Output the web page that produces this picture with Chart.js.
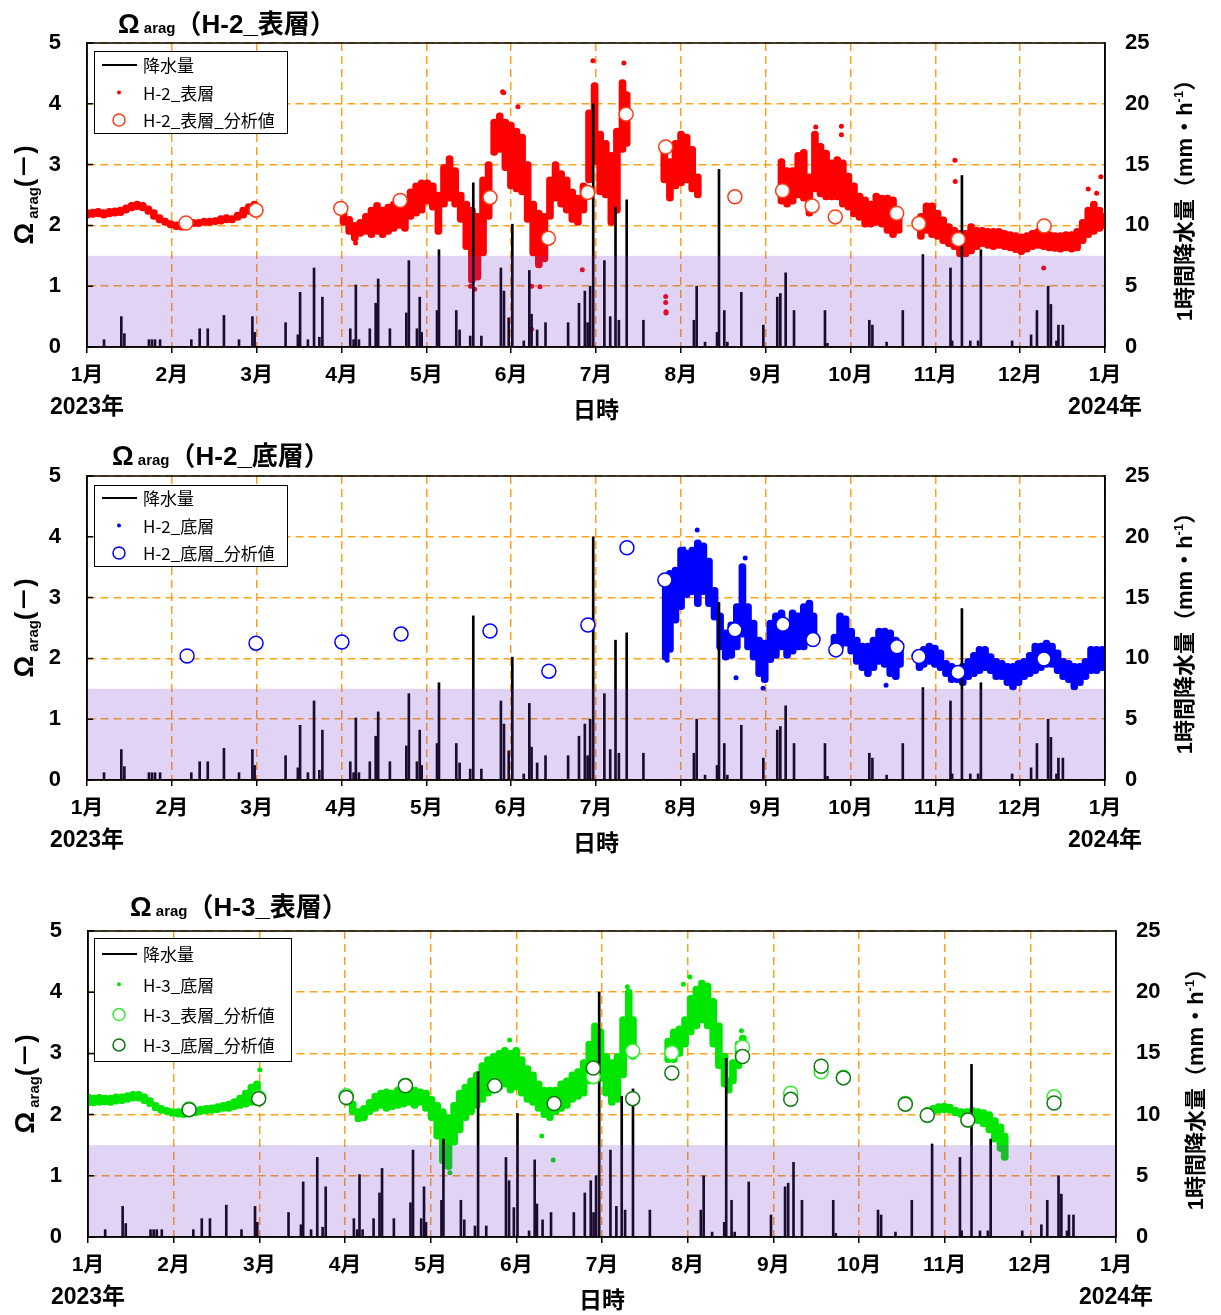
<!DOCTYPE html>
<html>
<head>
<meta charset="utf-8">
<title>Ωarag</title>
<script src="https://cdn.jsdelivr.net/npm/chart.js@4.4.1/dist/chart.umd.min.js"></script>
<style>
  body { margin: 0; background: #fff; }
  canvas { position: absolute; left: 0; display: block; }
</style>
</head>
<body>
<canvas id="p1" width="1221" height="433" style="top:0"></canvas>
<canvas id="p2" width="1221" height="433" style="top:433px"></canvas>
<canvas id="p3" width="1221" height="449" style="top:866px"></canvas>
<script>
// x = day of year 2023 (0 = 1 Jan), axis ticks every 1/12 year
const monthLabels = ['1月', '2月', '3月', '4月', '5月', '6月', '7月', '8月', '9月', '10月', '11月', '12月', '1月'];
const yearLabels = ['2023年', '2024年'];
const bandTop = 1.5;

// hourly precipitation peaks [day, mm/h]
const rain = [
  [6.1,0.6],[12.3,2.5],[13.4,1.1],[22.2,0.6],[23.3,0.6],[24.4,0.6],[26.2,0.6],[37.4,0.6],[40.4,1.5],[43.3,1.5],
  [49.1,2.6],[54.5,0.6],[59.3,2.5],[60.1,1.2],[71.2,2.0],[75.6,1.0],[76.4,4.5],[79.2,0.6],[81.4,6.5],[83.3,0.8],
  [84.4,4.1],[94.4,1.5],[95.6,0.6],[96.4,5.1],[97.5,0.6],[101.4,1.5],[103.5,3.6],[104.4,5.6],[108.6,1.5],[114.5,2.8],
  [115.4,7.1],[118.3,1.5],[119.3,4.1],[120.0,1.2],[125.5,3.0],[126.2,8.0],[132.4,3.0],[133.6,1.4],[137.4,0.9],[138.5,13.5],
  [141.4,0.9],[148.4,6.5],[149.5,4.6],[151.2,2.4],[152.5,10.1],[156.6,0.5],[158.6,6.3],[159.4,2.7],[161.4,1.4],[164.4,2.0],
  [172.5,2.0],[176.4,3.6],[178.5,4.6],[179.5,2.0],[180.4,5.0],[181.5,20.0],[185.5,7.1],[187.6,2.5],[189.5,11.5],[190.7,2.2],
  [193.5,12.1],[199.5,2.2],[217.6,2.2],[218.6,5.0],[221.6,0.4],[225.9,1.2],[226.6,14.6],[228.5,3.0],[229.6,0.4],[234.6,4.5],
  [242.5,1.8],[247.5,4.1],[248.6,4.4],[250.5,6.1],[253.5,3.0],[264.6,3.0],[265.5,0.3],[280.5,2.2],[281.6,1.8],[286.7,0.4],
  [292.5,3.0],[299.7,7.6],[309.6,6.5],[310.2,0.5],[313.7,14.1],[316.7,0.5],[319.5,0.5],[320.5,8.0],[331.7,0.5],[338.5,1.0],
  [340.6,3.0],[344.6,5.0],[345.6,3.5],[347.6,0.5],[348.3,1.8],[349.9,1.8]
];

// H-2 surface: continuous record, spread per ~2 days [day, low, high]
const h2sBand = [
  [0,2.12,2.26],[2,2.13,2.27],[4,2.14,2.28],[6,2.12,2.26],[8,2.14,2.28],[10,2.15,2.29],[12,2.16,2.30],[14,2.20,2.34],
  [16,2.24,2.38],[18,2.26,2.40],[20,2.24,2.38],[22,2.18,2.32],[24,2.10,2.26],[26,2.04,2.18],[28,2.00,2.12],[30,1.96,2.08],
  [32,1.93,2.06],[34,1.92,2.08],[36,1.94,2.10],[38,1.98,2.10],[40,1.98,2.10],[42,2.00,2.12],[44,2.00,2.12],[46,2.01,2.13],
  [48,2.02,2.16],[50,2.04,2.18],[52,2.04,2.16],[54,2.08,2.22],[56,2.12,2.30],[58,2.18,2.36],[60,2.22,2.40],
  [92,2.00,2.24],[94,1.85,2.15],[96,1.74,2.05],[98,1.82,2.10],[100,1.85,2.20],[102,1.80,2.30],[104,1.85,2.38],[106,1.80,2.30],
  [108,1.85,2.35],[110,1.90,2.40],[112,1.95,2.45],[114,1.90,2.40],[116,2.10,2.60],[118,2.15,2.70],[120,2.20,2.75],
  [122,2.35,2.75],[124,2.25,2.70],[126,1.85,2.55],[128,2.30,3.00],[130,2.40,3.15],[132,2.30,2.95],[134,2.05,2.55],[136,1.60,2.40],
  [138,1.05,2.30],[140,1.10,2.20],[142,1.50,2.80],[144,2.10,3.05],[146,3.15,3.75],[148,3.20,3.85],[150,2.90,3.75],[152,2.60,3.70],
  [154,2.55,3.60],[156,2.50,3.50],[158,2.05,3.05],[160,1.50,2.40],[162,1.30,2.25],[164,1.40,2.20],[166,2.10,2.80],[168,2.40,3.05],
  [170,2.30,2.90],[172,2.20,2.80],[174,2.05,2.60],[176,2.00,2.50],[178,2.20,2.70],[180,2.70,3.90],[182,3.00,4.35],[184,2.50,3.55],
  [186,2.45,3.40],[188,2.00,3.20],[190,2.20,3.60],[192,3.20,4.40],[193.5,3.30,4.20],
  [207,2.70,3.35],[209,2.40,3.10],[211,2.60,3.40],[213,2.65,3.55],[215,2.70,3.50],[217,2.55,3.30],[219,2.45,2.85],
  [249,2.35,3.10],[251,2.30,2.95],[253,2.35,2.95],[255,2.45,3.20],[257,2.40,3.25],[259,2.15,2.85],[261,2.55,3.55],[263,2.47,3.35],
  [265,2.42,3.24],[267,2.42,3.08],[269,2.42,3.13],[271,2.30,3.08],[273,2.25,2.86],[275,2.14,2.70],[277,2.08,2.53],[279,1.97,2.47],
  [281,1.97,2.40],[283,2.00,2.53],[285,1.97,2.50],[287,1.87,2.50],[289,1.80,2.47],[291,1.87,2.20],
  [299,1.77,2.20],[301,1.87,2.37],[303,1.80,2.37],[305,1.77,2.25],[307,1.70,2.14],[309,1.65,2.03],[311,1.60,1.97],[313,1.48,1.92],
  [315,1.48,1.92],[317,1.53,2.03],[319,1.60,1.97],[321,1.65,1.97],[323,1.62,1.95],[325,1.60,1.95],[327,1.62,1.95],[329,1.60,1.92],
  [331,1.58,1.90],[333,1.55,1.88],[335,1.52,1.86],[337,1.56,1.88],[339,1.60,1.92],[341,1.62,1.95],[343,1.60,1.92],[345,1.58,1.90],
  [347,1.57,1.88],[349,1.56,1.88],[351,1.58,1.90],[353,1.56,1.90],[355,1.58,1.95],[357,1.70,2.10],[359,1.80,2.30],[361,1.85,2.40],
  [363,1.90,2.30],[364.5,1.95,2.20]
];
const h2sOut = [
  [96.3,1.71],[137.5,1.00],[139,0.95],[149,4.20],[149.4,4.18],[154.5,3.95],[159.4,0.29],[159.4,1.00],[162.4,0.99],[177.6,1.27],
  [181.4,4.71],[192.5,4.67],[207.5,0.83],[207.5,0.73],[207.6,0.58],[207.6,0.56],[261.3,3.62],[270.5,3.63],[270.5,3.49],
  [311.2,3.07],[311.3,2.72],[343,1.30],[359,2.60],[362,2.53],[363.5,2.80]
];
const h2sCirc = [
  [35.5,2.04],[60.6,2.25],[91,2.28],[112.3,2.41],[144.5,2.46],[165.4,1.79],[179.5,2.54],[193.3,3.83],[207.5,3.29],
  [232.3,2.47],[249.4,2.57],[260,2.32],[268.3,2.14],[290.3,2.20],[298.3,2.03],[312.4,1.77],[343.2,1.99]
];

// H-2 bottom
const h2bBand = [
  [207.5,1.97,3.34],[209,2.10,3.45],[211,2.58,3.50],[213,2.80,3.83],[215,3.00,3.78],[217,3.05,3.83],[219,2.85,3.95],[221,3.05,3.90],
  [223,2.85,3.65],[225,2.63,3.17],[227,2.14,2.75],[229,1.97,2.47],[231,2.00,2.60],[233,2.14,2.90],[235,2.35,3.56],[237,2.14,2.90],
  [239,1.97,2.63],[241,1.70,2.35],[243,1.60,2.30],[245,1.93,2.63],[247,2.00,2.75],[249,2.14,2.80],[251,2.00,2.63],[253,2.07,2.80],
  [255,2.14,2.75],[257,2.14,2.90],[259,2.25,2.96],[260.5,2.30,2.75],
  [268,2.08,2.40],[270,2.14,2.75],[272,2.20,2.70],[274,2.07,2.50],[276,1.90,2.35],[278,1.80,2.25],[280,1.70,2.25],[282,1.80,2.35],
  [284,1.90,2.50],[286,1.85,2.50],[288,1.70,2.47],[290,1.65,2.35],[291.5,1.85,2.20],
  [298.5,1.80,2.14],[300,1.85,2.20],[302,1.90,2.25],[304,1.85,2.22],[306,1.80,2.14],[308,1.70,1.97],[310,1.60,1.92],[312,1.60,1.86],
  [314,1.55,1.92],[316,1.65,2.00],[318,1.70,2.10],[320,1.75,2.20],[322,1.80,2.20],[324,1.75,2.08],[326,1.65,2.00],[328,1.65,1.97],
  [330,1.55,1.92],[332,1.48,1.92],[334,1.55,1.97],[336,1.65,2.00],[338,1.70,2.10],[340,1.75,2.25],[342,1.80,2.25],[344,1.85,2.30],
  [346,1.85,2.25],[348,1.75,2.14],[350,1.65,2.00],[352,1.60,1.97],[354,1.48,1.92],[356,1.55,1.92],[358,1.65,2.00],[360,1.75,2.20],
  [362,1.75,2.20],[364,1.80,2.20]
];
const h2bOut = [
  [208,1.97],[214,3.80],[218.8,4.11],[236,3.65],[232.7,1.68],[242.4,1.51],[286.5,1.56]
];
const h2bCirc = [
  [35.9,2.04],[60.6,2.25],[91.4,2.27],[112.6,2.40],[144.5,2.45],[165.6,1.79],[179.6,2.55],[193.6,3.82],[207.2,3.29],
  [232.3,2.47],[249.5,2.56],[260.3,2.31],[268.5,2.14],[290.4,2.19],[298.3,2.03],[312.3,1.77],[343.1,1.99]
];

// H-3 bottom
const h3bBand = [
  [0,2.14,2.34],[2,2.14,2.32],[4,2.15,2.33],[6,2.16,2.32],[8,2.15,2.32],[10,2.17,2.34],[12,2.18,2.34],[14,2.20,2.36],
  [16,2.22,2.38],[18,2.22,2.38],[20,2.18,2.34],[22,2.13,2.28],[24,2.06,2.20],[26,2.02,2.15],[28,2.00,2.12],[30,1.97,2.10],
  [32,1.96,2.10],[34,1.95,2.10],[36,1.97,2.12],[38,1.98,2.12],[40,2.00,2.14],[42,2.01,2.15],[44,2.02,2.16],[46,2.03,2.18],
  [48,2.05,2.20],[50,2.05,2.22],[52,2.08,2.26],[54,2.10,2.32],[56,2.12,2.40],[58,2.15,2.50],[60,2.18,2.55],
  [92,2.15,2.32],[94,2.00,2.22],[96,1.88,2.10],[98,1.90,2.15],[100,2.00,2.25],[102,2.05,2.35],[104,2.10,2.40],[106,2.05,2.42],
  [108,2.08,2.40],[110,2.10,2.45],[112,2.12,2.45],[114,2.15,2.50],[116,2.10,2.45],[118,2.15,2.42],[120,2.05,2.40],
  [122,1.90,2.30],[124,1.60,2.20],[126,1.20,2.10],[128,1.10,2.00],[130,1.50,2.20],[132,1.70,2.40],[134,1.90,2.50],[136,2.00,2.60],
  [138,2.10,2.70],[140,2.20,2.85],[142,2.30,2.95],[144,2.35,3.00],[146,2.40,3.05],[148,2.45,3.10],[150,2.35,3.05],[152,2.40,3.10],
  [154,2.30,2.95],[156,2.20,2.80],[158,2.15,2.70],[160,2.05,2.55],[162,1.95,2.45],[164,1.90,2.45],[166,2.00,2.45],[168,2.05,2.55],
  [170,2.10,2.60],[172,2.20,2.70],[174,2.25,2.75],[176,2.30,2.90],[178,2.50,3.20],[180,2.70,3.50],[182,2.55,3.40],[184,2.30,3.00],
  [186,2.15,2.90],[188,2.20,3.00],[190,2.60,3.60],[192,3.00,4.05],[193.5,2.90,3.60],
  [206,2.85,3.25],[208,2.85,3.40],[210,2.95,3.45],[212,3.10,3.60],[214,3.30,3.95],[216,3.40,4.10],[218,3.50,4.20],[220,3.40,4.15],
  [222,3.10,3.90],[224,2.75,3.50],[226,2.45,3.00],[227.5,2.35,2.60],[229,2.50,2.90],[231,2.75,3.20],[232.5,2.85,3.30],
  [298,1.98,2.12],[300,2.00,2.15],[302,2.02,2.18],[304,2.03,2.19],[306,2.02,2.17],[308,1.98,2.12],[310,1.95,2.10],[312,1.92,2.10],
  [314,1.88,2.12],[316,1.85,2.10],[318,1.80,2.08],[320,1.70,2.05],[322,1.55,1.95],[324,1.40,1.85],[325.5,1.25,1.70]
];
const h3bOut = [
  [61,2.73],[127,1.15],[128.5,1.05],[149.7,3.22],[161.1,1.65],[165.2,1.26],[191.5,4.09],[211.4,4.13],[213.7,4.25],[232,3.37]
];
const h3sCirc = [
  [35.9,2.09],[60.6,2.28],[91.7,2.31],[112.7,2.48],[144.4,2.48],[165.5,2.18],[179.4,2.62],[193.4,3.04],[207.3,3.01],
  [232.4,3.10],[249.5,2.35],[260.3,2.70],[268.2,2.61],[290.2,2.18],[298,1.99],[312.4,1.91],[343,2.29]
];
const h3bCirc = [
  [35.9,2.08],[60.6,2.26],[91.7,2.28],[112.7,2.47],[144.4,2.47],[165.5,2.18],[179.4,2.76],[193.4,2.26],[207.3,2.68],
  [232.4,2.95],[249.5,2.25],[260.3,2.79],[268.2,2.60],[290.2,2.17],[298,1.99],[312.4,1.91],[343,2.19]
];

const F = "'Liberation Sans', 'Noto Sans CJK JP', sans-serif";
const FJ = "'Noto Sans CJK JP', 'Liberation Sans', sans-serif";
const ORANGE = '#ffa31a';
const monthTicks = monthLabels.map((_, i) => i * 365 / 12);

const pts = rows => rows.map(r => ({ x: r[0], y: r[1] }));
const ranges = rows => rows.map(r => ({ x: r[0], y: [r[1], r[2]] }));

function drawParts(ctx, x, y, parts, angle, align) {
  ctx.save();
  ctx.translate(x, y);
  ctx.rotate(angle);
  ctx.textBaseline = 'alphabetic';
  ctx.textAlign = 'left';
  let w = 0;
  parts.forEach(p => { ctx.font = p.font; p.w = ctx.measureText(p.t).width; w += p.w; });
  let cx = align === 'center' ? -w / 2 : 0;
  parts.forEach(p => { ctx.font = p.font; ctx.fillText(p.t, cx, p.dy || 0); cx += p.w; });
  ctx.restore();
}

function makeDeco(p) {
  return {
    id: 'deco',
    afterDatasetsDraw(chart) {
      const { ctx, chartArea: a, scales } = chart;
      const yb = scales.y.getPixelForValue(bandTop);
      ctx.save();
      ctx.fillStyle = 'rgba(114,55,205,0.22)';
      ctx.fillRect(a.left, yb, a.right - a.left, a.bottom - yb);
      ctx.strokeStyle = '#000';
      ctx.lineWidth = 1.5;
      ctx.strokeRect(a.left, a.top, a.right - a.left, a.bottom - a.top);
      ctx.beginPath();
      scales.y.ticks.forEach(t => {
        const y = scales.y.getPixelForValue(t.value);
        ctx.moveTo(a.left, y);
        ctx.lineTo(a.left + 6, y);
      });
      ctx.stroke();
      ctx.restore();
    },
    afterDraw(chart) {
      const { ctx, chartArea: a, scales } = chart;
      const midY = (a.top + a.bottom) / 2;
      ctx.save();
      ctx.fillStyle = '#000';
      // panel title
      drawParts(ctx, p.titleX, a.top - p.titleUp, [
        { t: 'Ω', font: 'bold 27px ' + F },
        { t: ' arag', font: 'bold 15px ' + F },
        { t: p.title, font: 'bold 26px ' + F }
      ], 0, 'left');
      // axis titles
      drawParts(ctx, p.leftTitleX, midY, [
        { t: 'Ω', font: 'bold 27px ' + F },
        { t: ' arag', font: 'bold 15px ' + F, dy: 5 },
        { t: '(－)', font: 'bold 25px ' + F }
      ], -Math.PI / 2, 'center');
      drawParts(ctx, a.right + 87, midY, [
        { t: '1時間降水量（mm・h', font: 'bold 22px ' + F },
        { t: '-1', font: 'bold 13px ' + F, dy: -9 },
        { t: '）', font: 'bold 22px ' + F }
      ], -Math.PI / 2, 'center');
      // years and axis name
      ctx.textAlign = 'center';
      ctx.textBaseline = 'middle';
      ctx.font = 'bold 23px ' + F;
      ctx.fillText(yearLabels[0], scales.x.getPixelForValue(0), a.bottom + 61);
      ctx.fillText(yearLabels[1], scales.x.getPixelForValue(365), a.bottom + 61);
      ctx.fillText('日時', (a.left + a.right) / 2, a.bottom + 65);
      // legend box
      const L = p.leg;
      const lx = a.left + L.dx, ly = a.top + L.dy;
      ctx.fillStyle = '#fff';
      ctx.fillRect(lx, ly, L.w, L.h);
      ctx.strokeStyle = '#000';
      ctx.lineWidth = 1;
      ctx.strokeRect(lx + 0.5, ly + 0.5, L.w, L.h);
      p.legend.forEach((it, i) => {
        const y = ly + L.first + i * L.step;
        if (it.kind === 'line') {
          ctx.strokeStyle = '#000';
          ctx.lineWidth = 2;
          ctx.beginPath();
          ctx.moveTo(lx + 8, y);
          ctx.lineTo(lx + 43, y);
          ctx.stroke();
        } else if (it.kind === 'dot') {
          ctx.fillStyle = it.color;
          ctx.beginPath();
          ctx.arc(lx + 25, y, 2, 0, Math.PI * 2);
          ctx.fill();
        } else {
          ctx.fillStyle = '#fff';
          ctx.strokeStyle = it.color;
          ctx.lineWidth = 1.5;
          ctx.beginPath();
          ctx.arc(lx + 25, y, 6, 0, Math.PI * 2);
          ctx.fill();
          ctx.stroke();
        }
        ctx.fillStyle = '#000';
        ctx.textAlign = 'left';
        ctx.textBaseline = 'middle';
        ctx.font = '17px ' + FJ;
        ctx.fillText(it.label, lx + 49, y + 1);
      });
      ctx.restore();
    }
  };
}

function makePanel(id, p) {
  const datasets = [];
  p.circles.forEach((c, i) => datasets.push({
    type: 'scatter', label: c.label, data: pts(c.rows), yAxisID: 'y',
    pointRadius: 7, borderWidth: 1.5, borderColor: c.color, backgroundColor: '#fff', order: 4 - i
  }));
  datasets.push({
    type: 'bar', label: '降水量', data: pts(rain), yAxisID: 'y1',
    backgroundColor: '#000', barThickness: 2, grouped: false, order: 5
  });
  datasets.push({
    type: 'scatter', label: p.dotLabel, data: pts(p.out), yAxisID: 'y',
    pointRadius: 2.5, borderWidth: 0, backgroundColor: p.dotColor, order: 6
  });
  datasets.push({
    type: 'bar', label: p.dotLabel, data: ranges(p.band), yAxisID: 'y',
    backgroundColor: p.dotColor, barThickness: 7, borderRadius: 3.5, borderSkipped: false, grouped: false, order: 7
  });

  return new Chart(document.getElementById(id), {
    type: 'scatter',
    data: { datasets },
    options: {
      responsive: false,
      animation: false,
      events: [],
      layout: { padding: { top: p.padTop, left: 0, right: 0, bottom: 0 } },
      plugins: { legend: { display: false }, tooltip: { enabled: false } },
      scales: {
        x: {
          type: 'linear', min: 0, max: 365, offset: false,
          afterBuildTicks: s => { s.ticks = monthTicks.map(v => ({ value: v })); },
          afterFit: s => { s.height = p.xH; },
          ticks: {
            callback: (v, i) => monthLabels[i], autoSkip: false, maxRotation: 0,
            color: '#000', padding: 10, font: { family: F, size: 21, weight: 'bold' }
          },
          grid: { offset: false, color: ORANGE, lineWidth: 1.5, tickLength: 6, tickColor: '#000', tickWidth: 1.5 },
          border: { color: '#000', width: 1.5, dash: [8, 5] }
        },
        y: {
          position: 'left', min: 0, max: 5,
          afterFit: s => { s.width = p.leftW; },
          ticks: { stepSize: 1, color: '#000', padding: 26, font: { family: F, size: 22, weight: 'bold' } },
          grid: { color: ORANGE, lineWidth: 1.5, drawTicks: false },
          border: { color: '#000', width: 1.5, dash: [8, 5] }
        },
        y1: {
          position: 'right', min: 0, max: 25,
          afterFit: s => { s.width = p.rightW; },
          ticks: { stepSize: 5, color: '#000', padding: 20, font: { family: F, size: 22, weight: 'bold' } },
          grid: { display: false, drawTicks: false },
          border: { color: '#000', width: 1.5 }
        }
      }
    },
    plugins: [makeDeco(p)]
  });
}

makePanel('p1', {
  title: '（H-2_表層）', titleX: 118, titleUp: 10, leftTitleX: 33,
  padTop: 43, xH: 86, leftW: 87, rightW: 116,
  band: h2sBand, out: h2sOut, dotColor: '#ff0000', dotLabel: 'H-2_表層',
  circles: [{ label: 'H-2_表層_分析値', rows: h2sCirc, color: '#ff3b14' }],
  leg: { dx: 7, dy: 8, w: 193, h: 82, first: 14, step: 27.5 },
  legend: [
    { kind: 'line', label: '降水量' },
    { kind: 'dot', label: 'H-2_表層', color: '#ff0000' },
    { kind: 'circle', label: 'H-2_表層_分析値', color: '#ff3b14' }
  ]
});

makePanel('p2', {
  title: '（H-2_底層）', titleX: 112, titleUp: 11, leftTitleX: 33,
  padTop: 43, xH: 86, leftW: 87, rightW: 116,
  band: h2bBand, out: h2bOut, dotColor: '#0000ff', dotLabel: 'H-2_底層',
  circles: [{ label: 'H-2_底層_分析値', rows: h2bCirc, color: '#0000ff' }],
  leg: { dx: 7, dy: 9, w: 193, h: 81, first: 13, step: 27.5 },
  legend: [
    { kind: 'line', label: '降水量' },
    { kind: 'dot', label: 'H-2_底層', color: '#0000ff' },
    { kind: 'circle', label: 'H-2_底層_分析値', color: '#0000ff' }
  ]
});

makePanel('p3', {
  title: '（H-3_表層）', titleX: 130, titleUp: 15, leftTitleX: 34,
  padTop: 65, xH: 78, leftW: 88, rightW: 105,
  band: h3bBand, out: h3bOut, dotColor: '#00e600', dotLabel: 'H-3_底層',
  circles: [
    { label: 'H-3_表層_分析値', rows: h3sCirc, color: '#33ee33' },
    { label: 'H-3_底層_分析値', rows: h3bCirc, color: '#117711' }
  ],
  leg: { dx: 6, dy: 7, w: 197, h: 123, first: 16, step: 30.3 },
  legend: [
    { kind: 'line', label: '降水量' },
    { kind: 'dot', label: 'H-3_底層', color: '#00e600' },
    { kind: 'circle', label: 'H-3_表層_分析値', color: '#33ee33' },
    { kind: 'circle', label: 'H-3_底層_分析値', color: '#117711' }
  ]
});
</script>
</body>
</html>
